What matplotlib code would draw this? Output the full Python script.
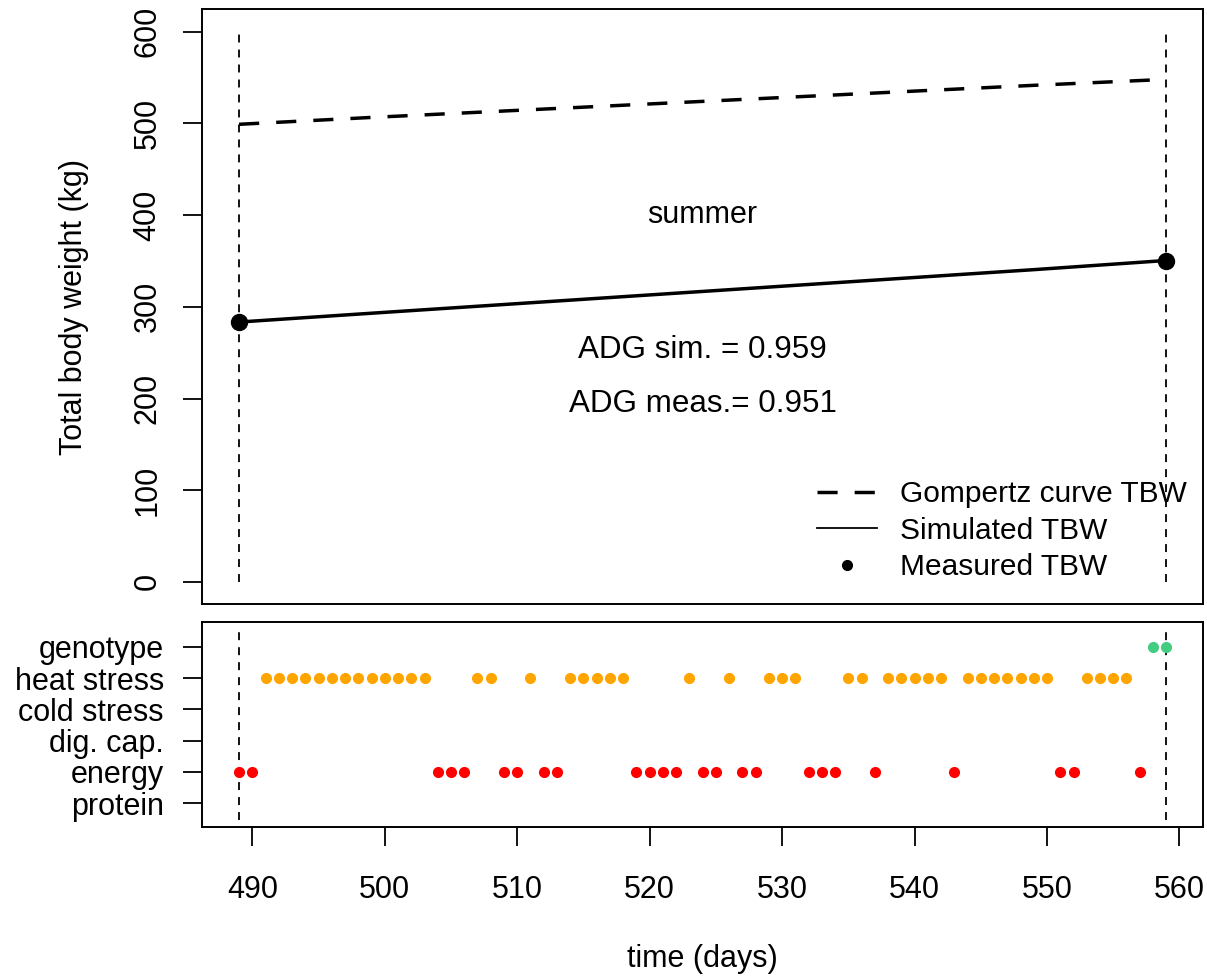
import matplotlib
matplotlib.use('Agg')
import matplotlib.pyplot as plt
from matplotlib.lines import Line2D

plt.rcParams['font.family'] = ['Liberation Sans', 'DejaVu Sans']

# top panel: body weight over time
days = [489, 499, 509, 519, 529, 539, 549, 559]
gompertz_tbw = [499.0, 506.5, 513.5, 520.5, 527.5, 534.5, 541.5, 548.0]
simulated_tbw = [283.4, 293.0, 302.5, 312.0, 321.5, 331.0, 340.5, 350.5]
measured_days = [489, 559]
measured_tbw = [283.4, 350.0]
season = 'summer'
adg_sim = 0.959
adg_meas = 0.951

# bottom panel: limiting factor per day
factor_labels = ['protein', 'energy', 'dig. cap.', 'cold stress', 'heat stress', 'genotype']
energy_days = [489, 490, 504, 505, 506, 509, 510, 512, 513, 519, 520, 521, 522,
               524, 525, 527, 528, 532, 533, 534, 537, 543, 551, 552, 557]
heat_days = [491, 492, 493, 494, 495, 496, 497, 498, 499, 500, 501, 502, 503,
             507, 508, 511, 514, 515, 516, 517, 518, 523, 526, 529, 530, 531,
             535, 536, 538, 539, 540, 541, 542, 544, 545, 546, 547, 548, 549, 550,
             553, 554, 555, 556]
genotype_days = [558, 559]

FS = 22
W, H = 1207, 976
fig = plt.figure(figsize=(W / 100, H / 100), dpi=100)

def box(l, t, r, b):
    return [l / W, 1 - b / H, (r - l) / W, (b - t) / H]

ax1 = fig.add_axes(box(202, 9.3, 1203.3, 604.3))
ax2 = fig.add_axes(box(202, 621.7, 1203.3, 827.3))

xlim = (486.2, 561.8)
gdash = (0, (5.8, 4.9))
vdash = (0, (4.4, 3.9))

# ---- top panel
for d in measured_days:
    ax1.plot([d, d], [0, 600], color='black', lw=1.3, ls=vdash)
ax1.plot(days, gompertz_tbw, color='black', lw=2.5, ls=gdash)
ax1.plot(days, simulated_tbw, color='black', lw=2.5)
ax1.plot(measured_days, measured_tbw, 'o', color='black', ms=11.5)

ax1.text(524, 400, season, ha='center', va='center', fontsize=FS)
ax1.text(524, 253, 'ADG sim. = %.3f' % adg_sim, ha='center', va='center', fontsize=22.6)
ax1.text(524, 194, 'ADG meas.= %.3f' % adg_meas, ha='center', va='center', fontsize=22.6)

ax1.set_xlim(*xlim)
ax1.set_ylim(-24.4, 624.4)
ax1.set_xticks([])
ax1.set_yticks(range(0, 601, 100))
for lab in ax1.get_yticklabels():
    lab.set_rotation(90)
    lab.set_va('center')
ax1.tick_params(axis='y', length=13.5, width=1.3, labelsize=FS, pad=15)
ax1.set_ylabel('Total body weight (kg)', fontsize=FS)
ax1.yaxis.set_label_coords(-0.113, 0.5)

handles = [Line2D([], [], color='black', lw=2.5, ls=gdash),
           Line2D([], [], color='black', lw=1.3),
           Line2D([], [], color='black', ls='none', marker='o', ms=7)]
ax1.legend(handles, ['Gompertz curve TBW', 'Simulated TBW', 'Measured TBW'],
           loc='lower left', bbox_to_anchor=(0.6142, 0.039), frameon=False,
           fontsize=21.5, handlelength=2.0, handletextpad=0.77, labelspacing=0.28,
           borderpad=0, borderaxespad=0)

# ---- bottom panel
for d in measured_days:
    ax2.plot([d, d], [0.45, 6.55], color='black', lw=1.3, ls=vdash)
ax2.plot(energy_days, [2] * len(energy_days), 'o', color='#FF0000', ms=7)
ax2.plot(heat_days, [5] * len(heat_days), 'o', color='#FFA500', ms=7)
ax2.plot(genotype_days, [6] * len(genotype_days), 'o', color='#43CD80', ms=7)

ax2.set_xlim(*xlim)
ax2.set_ylim(0.23, 6.8)
ax2.set_yticks(range(1, 7))
ax2.set_yticklabels(factor_labels)
ax2.set_xticks(range(490, 561, 10))
ax2.tick_params(axis='both', length=13.5, width=1.3, labelsize=FS)
ax2.tick_params(axis='y', pad=14)
ax2.tick_params(axis='x', pad=21)
ax2.set_xlabel('time (days)', fontsize=FS, labelpad=28)

for ax in (ax1, ax2):
    for s in ax.spines.values():
        s.set_linewidth(1.4)

fig.savefig('out.png', dpi=100)
